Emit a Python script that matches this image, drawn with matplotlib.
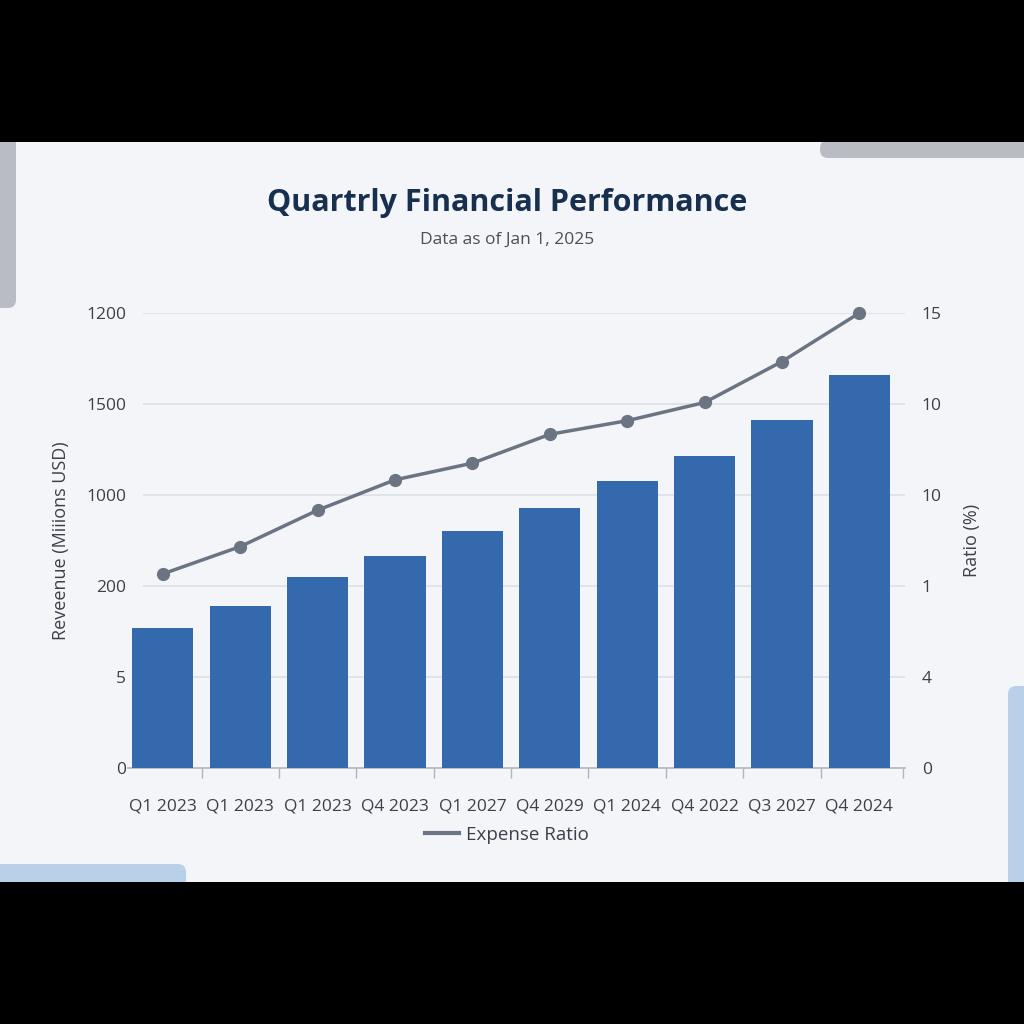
import matplotlib.pyplot as plt
from matplotlib.patches import Rectangle, FancyBboxPatch
from matplotlib.lines import Line2D
from matplotlib.ticker import FixedLocator, FixedFormatter

plt.rcParams['font.family'] = ['Open Sans', 'DejaVu Sans']

quarters = ["Q1 2023", "Q1 2023", "Q1 2023", "Q4 2023", "Q1 2027",
            "Q4 2029", "Q1 2024", "Q4 2022", "Q3 2027", "Q4 2024"]
revenue = [385, 445, 525, 582, 651, 714, 788, 857, 956, 1080]
expense_ratio = [6.4, 7.3, 8.5, 9.5, 10.05, 11.0, 11.45, 12.05, 13.4, 15.0]

left_ticks = [0, 250, 500, 750, 1000, 1250]
left_labels = ["0", "5", "200", "1000", "1500", "1200"]
right_ticks = [0, 3, 6, 9, 12, 15]
right_labels = ["0", "4", "1", "10", "10", "15"]

BG = "#f3f5f9"
BAR = "#3469ae"
LINE = "#6b7483"
TXT = "#3b4049"

fig = plt.figure(figsize=(10.24, 10.24), dpi=100)
fig.patch.set_facecolor(BG)


def px(x0, y0, w, h):
    # pixel box (top-left origin) -> figure fraction
    return x0 / 1024, 1 - (y0 + h) / 1024, w / 1024, h / 1024


# black bands top and bottom
for y0, h in [(0, 142), (882, 142)]:
    x, y, w, hh = px(0, y0, 1024, h)
    fig.patches.append(Rectangle((x, y), w, hh, transform=fig.transFigure,
                                 facecolor="black", edgecolor="none", zorder=5))

# decorative rounded bars
decor = [
    (-10, 120, 26, 188, "#b9bdc3"),
    (820, 140, 230, 18, "#b9bdc3"),
    (1008, 686, 30, 220, "#b8d0e8"),
    (-20, 864, 206, 30, "#b8d0e8"),
]
for x0, y0, w, h, c in decor:
    x, y, ww, hh = px(x0, y0, w, h)
    fig.patches.append(FancyBboxPatch((x, y), ww, hh, boxstyle="round,pad=0,rounding_size=0.008",
                                      transform=fig.transFigure, facecolor=c,
                                      edgecolor="none", zorder=4))

ax = fig.add_axes([118 / 1024, 1 - 768 / 1024, (905 - 118) / 1024, (768 - 313) / 1024])
ax.set_facecolor(BG)
xs = list(range(len(quarters)))
ax.bar(xs, revenue, width=0.79, color=BAR, zorder=3)
ax.set_xlim(-0.58, 9.59)
ax.set_ylim(0, 1250)
ax.yaxis.set_major_locator(FixedLocator(left_ticks))
ax.yaxis.set_major_formatter(FixedFormatter(left_labels))
ax.hlines(left_ticks[1:], -0.26, 9.59, color="#dde1e7", linewidth=1.2, zorder=0)
ax.set_xticks(xs)
ax.set_xticklabels(quarters)
ax.set_xticks([i + 0.5 for i in range(9)] + [9.57], minor=True)
ax.tick_params(axis="x", which="major", length=0, pad=22, labelsize=12.5, labelcolor=TXT)
ax.tick_params(axis="x", which="minor", length=7, color="#b0b5bd", width=1)
ax.tick_params(axis="y", length=0, pad=-6, labelsize=12.5, labelcolor=TXT)
for s in ["top", "right", "left"]:
    ax.spines[s].set_visible(False)
ax.spines["bottom"].set_color("#b0b5bd")
ax.spines["bottom"].set_linewidth(1.2)
ax.spines["bottom"].set_bounds(-0.45, 9.59)
ax.set_ylabel("Reveenue (Miiions USD)", fontsize=13, color=TXT)

ax2 = ax.twinx()
ax2.set_ylim(0, 15)
ax2.plot(xs, expense_ratio, color=LINE, linewidth=2.5, marker="o", markersize=8.5,
         zorder=4, clip_on=False)
ax2.yaxis.set_major_locator(FixedLocator(right_ticks))
ax2.yaxis.set_major_formatter(FixedFormatter(right_labels))
ax2.tick_params(axis="y", length=0, pad=12, labelsize=12.5, labelcolor=TXT)
for s in ax2.spines.values():
    s.set_visible(False)
ax2.set_ylabel("Ratio (%)", fontsize=13, color=TXT, labelpad=15)

# place the left axis title where the reference has it
ax.yaxis.set_label_coords(-(118 - 70) / 787, 0.5)

fig.text(507 / 1024, 1 - 203 / 1024, "Quartrly Financial Performance", ha="center", va="center",
         fontsize=22, fontweight="bold", color="#17304f")
fig.text(507 / 1024, 1 - 240 / 1024, "Data as of Jan 1, 2025", ha="center", va="center",
         fontsize=12.5, color="#4a4f58")

handle = Line2D([], [], color=LINE, linewidth=3)
fig.legend([handle], ["Expense Ratio"], loc="center", bbox_to_anchor=(507 / 1024, 1 - 835 / 1024),
           frameon=False, fontsize=13.5, handlelength=1.8, handletextpad=0.4, labelcolor=TXT)

fig.savefig("out.png", dpi=100, facecolor=fig.get_facecolor())
